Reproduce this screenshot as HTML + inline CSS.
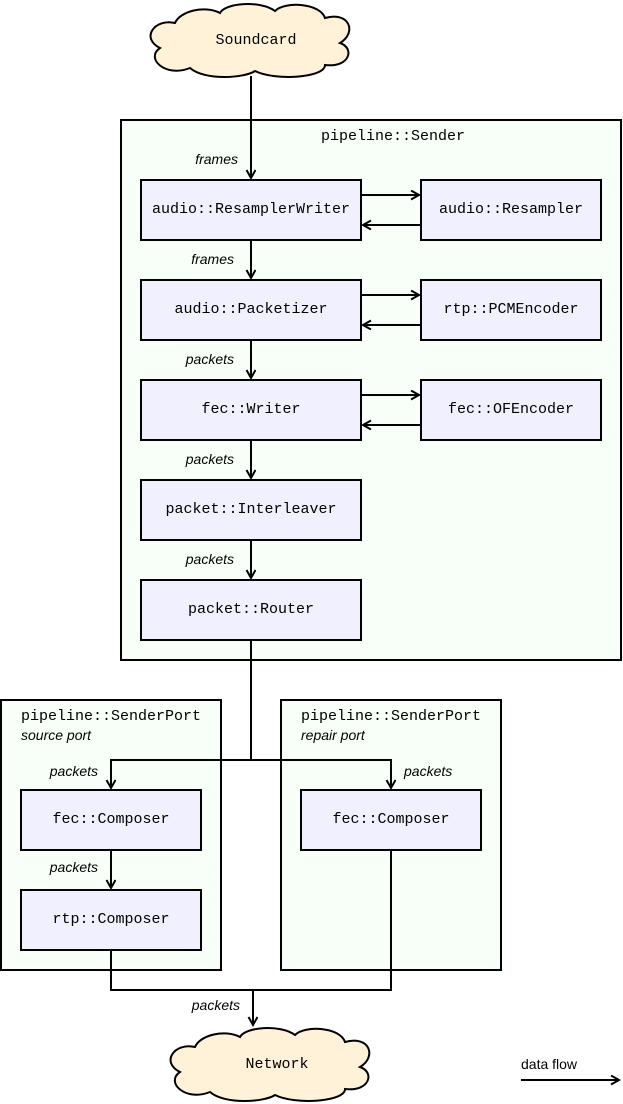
<!DOCTYPE html>
<html><head><meta charset="utf-8"><style>
html,body{margin:0;padding:0;background:#fff;}
svg{display:block;}
.m{font-family:"Liberation Mono",monospace;font-size:15px;fill:#000;}
.i{font-family:"Liberation Sans",sans-serif;font-size:14px;font-style:italic;fill:#000;}
.c{fill:#f8fff8;stroke:#000;stroke-width:2;}
.b{fill:#f0f0ff;stroke:#000;stroke-width:2;}
.l{fill:none;stroke:#000;stroke-width:2;}
.cl{fill:#fff2d9;stroke:#000;stroke-width:2;}
</style></head><body>
<svg width="623" height="1104" viewBox="0 0 623 1104" xmlns="http://www.w3.org/2000/svg">
<defs>
<marker id="a" markerWidth="12" markerHeight="12" refX="9" refY="5" orient="auto" markerUnits="userSpaceOnUse">
<path d="M1,0.5 L9,5 L1,9.5" fill="none" stroke="#000" stroke-width="2"/>
</marker>
<path id="cloud" d="M30,20 C10,15 -5,35 15,45 C0,55 20,75 45,65 C60,78 100,75 110,68 C130,78 180,75 180,62 C205,65 210,45 195,40 C212,30 205,8 180,15 C175,0 140,-2 130,8 C115,-3 80,0 75,10 C60,2 35,8 30,20 Z"/>
</defs>

<use href="#cloud" class="cl" transform="translate(145,3)"/>
<text x="256" y="44" class="m" text-anchor="middle">Soundcard</text>

<rect x="121" y="120" width="500" height="540" class="c"/>
<text x="393" y="140" class="m" text-anchor="middle">pipeline::Sender</text>

<line x1="251" y1="76" x2="251" y2="178" class="l" marker-end="url(#a)"/>
<text x="238" y="164" class="i" text-anchor="end">frames</text>

<rect x="141" y="180" width="220" height="60" class="b"/>
<text x="251" y="213" class="m" text-anchor="middle">audio::ResamplerWriter</text>
<rect x="421" y="180" width="180" height="60" class="b"/>
<text x="511" y="213" class="m" text-anchor="middle">audio::Resampler</text>
<line x1="361" y1="195" x2="419" y2="195" class="l" marker-end="url(#a)"/>
<line x1="421" y1="225" x2="363" y2="225" class="l" marker-end="url(#a)"/>

<line x1="251" y1="240" x2="251" y2="278" class="l" marker-end="url(#a)"/>
<text x="234" y="264" class="i" text-anchor="end">frames</text>

<rect x="141" y="280" width="220" height="60" class="b"/>
<text x="251" y="313" class="m" text-anchor="middle">audio::Packetizer</text>
<rect x="421" y="280" width="180" height="60" class="b"/>
<text x="511" y="313" class="m" text-anchor="middle">rtp::PCMEncoder</text>
<line x1="361" y1="295" x2="419" y2="295" class="l" marker-end="url(#a)"/>
<line x1="421" y1="325" x2="363" y2="325" class="l" marker-end="url(#a)"/>

<line x1="251" y1="340" x2="251" y2="378" class="l" marker-end="url(#a)"/>
<text x="234" y="364" class="i" text-anchor="end">packets</text>

<rect x="141" y="380" width="220" height="60" class="b"/>
<text x="251" y="413" class="m" text-anchor="middle">fec::Writer</text>
<rect x="421" y="380" width="180" height="60" class="b"/>
<text x="511" y="413" class="m" text-anchor="middle">fec::OFEncoder</text>
<line x1="361" y1="395" x2="419" y2="395" class="l" marker-end="url(#a)"/>
<line x1="421" y1="425" x2="363" y2="425" class="l" marker-end="url(#a)"/>

<line x1="251" y1="440" x2="251" y2="478" class="l" marker-end="url(#a)"/>
<text x="234" y="464" class="i" text-anchor="end">packets</text>

<rect x="141" y="480" width="220" height="60" class="b"/>
<text x="251" y="513" class="m" text-anchor="middle">packet::Interleaver</text>

<line x1="251" y1="540" x2="251" y2="578" class="l" marker-end="url(#a)"/>
<text x="234" y="564" class="i" text-anchor="end">packets</text>

<rect x="141" y="580" width="220" height="60" class="b"/>
<text x="251" y="613" class="m" text-anchor="middle">packet::Router</text>

<rect x="1" y="700" width="220" height="270" class="c"/>
<text x="21" y="720" class="m">pipeline::SenderPort</text>
<text x="21" y="740" class="i">source port</text>
<rect x="281" y="700" width="220" height="270" class="c"/>
<text x="301" y="720" class="m">pipeline::SenderPort</text>
<text x="301" y="740" class="i">repair port</text>

<line x1="251" y1="640" x2="251" y2="760" class="l"/>
<polyline points="111,788 111,760 391,760 391,788" class="l"/>
<line x1="111" y1="770" x2="111" y2="788" class="l" marker-end="url(#a)"/>
<line x1="391" y1="770" x2="391" y2="788" class="l" marker-end="url(#a)"/>
<text x="98" y="776" class="i" text-anchor="end">packets</text>
<text x="404" y="776" class="i">packets</text>

<rect x="21" y="790" width="180" height="60" class="b"/>
<text x="111" y="823" class="m" text-anchor="middle">fec::Composer</text>
<rect x="301" y="790" width="180" height="60" class="b"/>
<text x="391" y="823" class="m" text-anchor="middle">fec::Composer</text>

<line x1="111" y1="850" x2="111" y2="888" class="l" marker-end="url(#a)"/>
<text x="98" y="872" class="i" text-anchor="end">packets</text>

<rect x="21" y="890" width="180" height="60" class="b"/>
<text x="111" y="923" class="m" text-anchor="middle">rtp::Composer</text>

<polyline points="111,950 111,990 391,990 391,850" class="l"/>
<line x1="253" y1="990" x2="253" y2="1025" class="l" marker-end="url(#a)"/>
<text x="240" y="1010" class="i" text-anchor="end">packets</text>

<use href="#cloud" class="cl" transform="translate(165,1027)"/>
<text x="277" y="1068" class="m" text-anchor="middle">Network</text>

<text x="521" y="1069" font-family="Liberation Sans, sans-serif" font-size="14">data flow</text>
<line x1="521" y1="1080" x2="619" y2="1080" class="l" marker-end="url(#a)"/>
</svg>
</body></html>
